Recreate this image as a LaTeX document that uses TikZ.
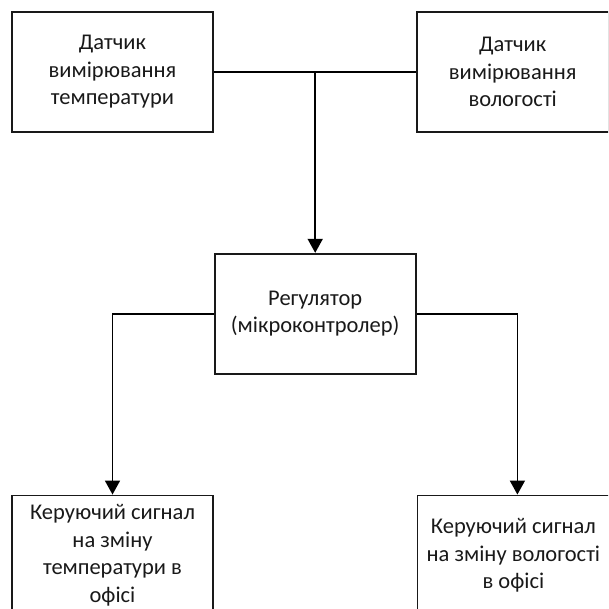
\documentclass[tikz,border=0pt]{standalone}
\usepackage{fontspec}
\setmainfont{Carlito}
\usetikzlibrary{positioning,arrows.meta}

\begin{document}
\begin{tikzpicture}[
    x=1pt,
    y=-1pt,
    node distance=120pt,
    >={Triangle[length=14pt,width=15pt]},
    line width=1.7pt
]


\tikzstyle{block}=[
    rectangle,
    draw=black!90,
    minimum width=201pt,
    minimum height=120pt,
    inner sep=2pt,
    align=center,
    text=black!90,
    font=\fontsize{22.5}{27.5}\selectfont
]


\clip (0,0) rectangle (608,609);


\node[block] (tsens) at (112.5,72) {Датчик\\вимірювання\\температури};
\node[block, minimum width=192pt, right=202pt of tsens] (hsens) {Датчик\\вимірювання\\вологості};

\node[block, below=of tsens.south east, anchor=north west] (reg) {Регулятор\\(мікроконтролер)};

\node[block, below=of reg.south west, anchor=north east] (tout) {Керуючий сигнал\\на зміну\\температури в\\офісі};
\node[block, minimum width=192pt, below=of reg.south east, anchor=north west] (hout) {Керуючий сигнал\\на зміну вологості\\в офісі};


\coordinate (join) at (reg.north |- tsens.east);
\draw (tsens) -- (hsens);
\draw[->] (join) -- (reg);
\draw[->] (reg) -| (tout);
\draw[->] (reg.east) -| ([xshift=4pt]hout.north);

\end{tikzpicture}
\end{document}
